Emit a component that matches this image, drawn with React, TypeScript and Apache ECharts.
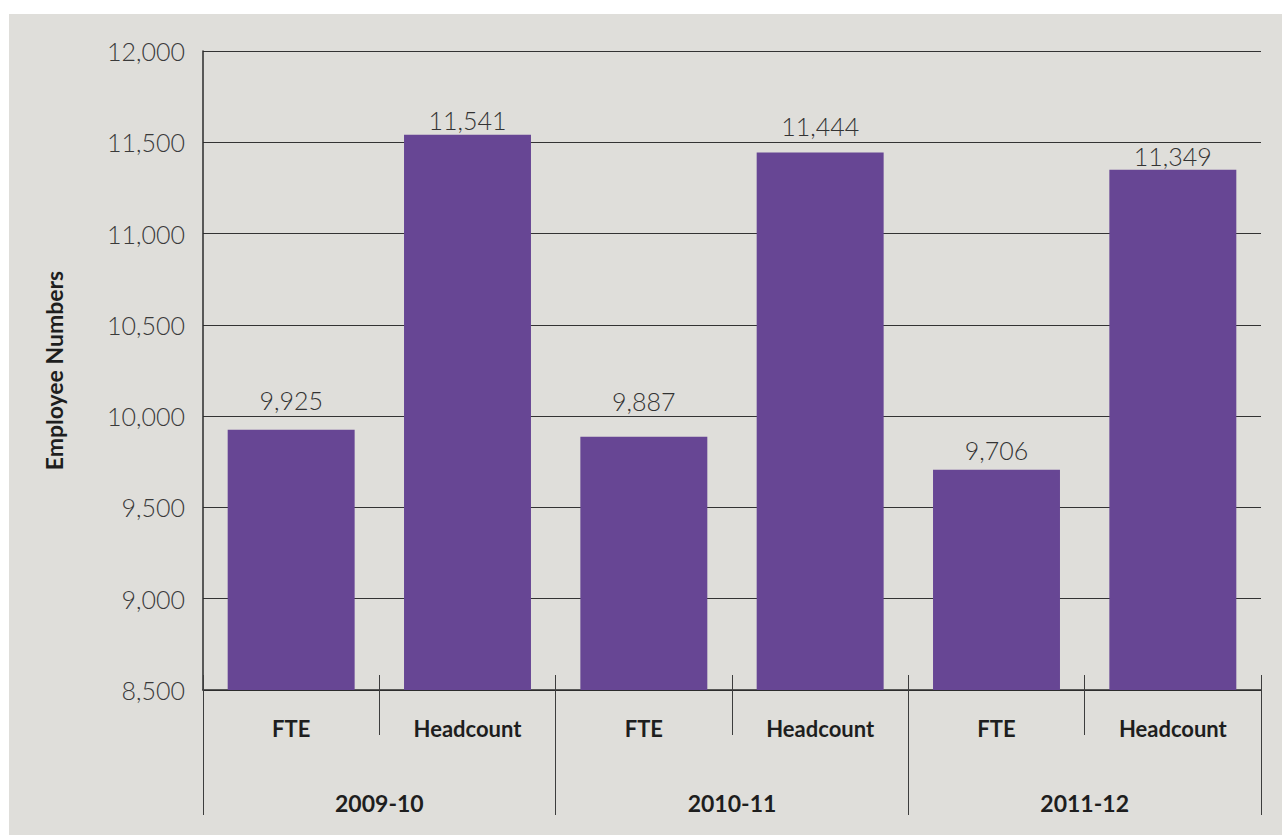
import React, { useEffect, useRef } from "react";
import * as echarts from "echarts";

// Financial years and the two staff measures reported for each
const years = ["2009-10", "2010-11", "2011-12"];
const measures = ["FTE", "Headcount"];
const fteValues = [9925, 9887, 9706];
const headcountValues = [11541, 11444, 11349];

// Y axis scale
const yMin = 8500;
const yMax = 12000;
const yStep = 500;

// Gap (px) between each bar top and its value label, in category order
const labelGaps = [17, 2, 23, 14, 7, 1];

const fmt = (v: number) => v.toLocaleString("en-US");

export default function App() {
  const ref = useRef<HTMLDivElement>(null);

  useEffect(() => {
    if (!ref.current) return;
    const chart = echarts.init(ref.current, undefined, { renderer: "svg" });

    const cats: string[] = [];
    const values: number[] = [];
    years.forEach((y, i) => {
      cats.push(`${y}|${measures[0]}`);
      values.push(fteValues[i]);
      cats.push(`${y}|${measures[1]}`);
      values.push(headcountValues[i]);
    });

    const tickColor = "#3d3d3d";
    const font = "Lato, 'Open Sans', sans-serif";

    chart.setOption({
      animation: false,
      backgroundColor: "#dfdeda",
      grid: { left: 194, right: 21, top: 37, bottom: 145, containLabel: false },
      xAxis: [
        {
          type: "category",
          data: cats,
          position: "bottom",
          axisLine: { show: true, lineStyle: { color: "#2b2b2b", width: 1.5 } },
          axisTick: { show: true, length: 45, lineStyle: { color: tickColor, width: 1 } },
          axisLabel: {
            margin: 27,
            fontFamily: font,
            fontWeight: "bold",
            fontSize: 22,
            color: "#1e1e1e",
            formatter: (v: string) => v.split("|")[1],
          },
          splitLine: { show: false },
        },
        {
          type: "category",
          data: cats,
          position: "bottom",
          axisLine: { show: false },
          axisTick: { show: true, inside: true, length: 15, lineStyle: { color: tickColor, width: 1 } },
          axisLabel: { show: false },
          splitLine: { show: false },
        },
        {
          type: "category",
          data: years,
          position: "bottom",
          axisLine: { show: false },
          axisTick: { show: true, length: 125, lineStyle: { color: tickColor, width: 1 } },
          axisLabel: {
            margin: 101,
            fontFamily: font,
            fontWeight: "bold",
            fontSize: 23,
            color: "#1e1e1e",
          },
          splitLine: { show: false },
        },
      ],
      yAxis: {
        type: "value",
        min: yMin,
        max: yMax,
        interval: yStep,
        name: "Employee Numbers",
        nameLocation: "middle",
        nameGap: 138,
        nameRotate: 90,
        nameTextStyle: {
          fontFamily: font,
          fontWeight: "bold",
          fontSize: 23,
          color: "#1e1e1e",
        },
        axisLine: { show: true, lineStyle: { color: "#2b2b2b", width: 1.5 } },
        axisTick: { show: false },
        axisLabel: {
          margin: 18,
          fontFamily: font,
          fontWeight: 300,
          fontSize: 25,
          color: "#3a3a3a",
          formatter: (v: number) => fmt(v),
        },
        splitLine: { show: true, lineStyle: { color: "#333333", width: 1 } },
      },
      series: [
        {
          type: "bar",
          xAxisIndex: 0,
          barCategoryGap: "28%",
          itemStyle: { color: "#674694" },
          data: values.map((v, i) => ({
            value: v,
            label: {
              show: true,
              position: "top",
              distance: labelGaps[i],
              fontFamily: font,
              fontWeight: 300,
              fontSize: 25,
              color: "#333333",
              formatter: () => fmt(v),
            },
          })),
        },
      ],
    });

    return () => chart.dispose();
  }, []);

  return (
    <div
      ref={ref}
      style={{ position: "absolute", left: 9, top: 14, width: 1273, height: 821 }}
    />
  );
}
